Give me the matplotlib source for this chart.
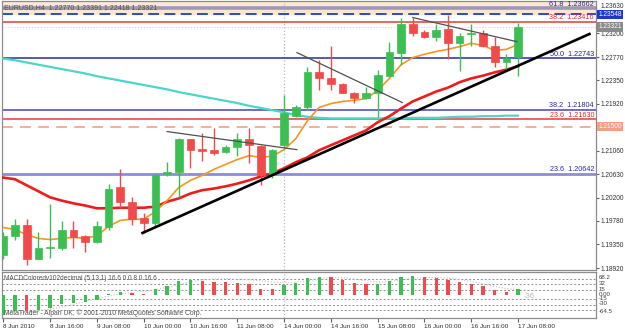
import matplotlib
matplotlib.use('Agg')
import matplotlib.pyplot as plt
import matplotlib.transforms as mtransforms

FONT = ['Liberation Sans', 'DejaVu Sans']
plt.rcParams['font.family'] = FONT

# ---------------- data ----------------
title = "EURUSD,H4  1.22770 1.23391 1.22418 1.23321"
opens = [1.1915, 1.1950, 1.1971, 1.1909, 1.1929, 1.1929, 1.1962, 1.1950, 1.1940, 1.1966,
         1.2039, 1.2012, 1.1984, 1.1975, 1.2063, 1.2068, 1.2127, 1.2110, 1.2107, 1.2103,
         1.2112, 1.2127, 1.2114, 1.2061, 1.2116, 1.2170, 1.2185, 1.2249, 1.2238, 1.2227,
         1.2212, 1.2203, 1.2212, 1.2243, 1.2285, 1.2338, 1.2322, 1.2313, 1.2329, 1.2302,
         1.2319, 1.2320, 1.2298, 1.2267, 1.22770]
highs = [1.1957, 1.1981, 1.1981, 1.1957, 1.2008, 1.1977, 1.1977, 1.1953, 1.1977, 1.2046,
         1.2072, 1.2021, 1.1992, 1.2065, 1.2086, 1.2130, 1.2128, 1.2139, 1.2147, 1.2117,
         1.2139, 1.2148, 1.2116, 1.2110, 1.2207, 1.2189, 1.2258, 1.2271, 1.2298, 1.2229,
         1.2214, 1.2223, 1.2253, 1.2304, 1.2349, 1.2349, 1.2327, 1.2338, 1.2353, 1.2320,
         1.2338, 1.2327, 1.2313, 1.2282, 1.23391]
lows = [1.1909, 1.1944, 1.1898, 1.1908, 1.1911, 1.1924, 1.1929, 1.1922, 1.1937, 1.1961,
        1.2002, 1.1970, 1.1955, 1.1968, 1.2059, 1.2021, 1.2074, 1.2088, 1.2099, 1.2101,
        1.2097, 1.2083, 1.2043, 1.2057, 1.2112, 1.2167, 1.2181, 1.2216, 1.2216, 1.2211,
        1.2194, 1.2201, 1.2167, 1.2241, 1.2262, 1.2316, 1.2311, 1.2307, 1.2273, 1.2252,
        1.2298, 1.2296, 1.2258, 1.2252, 1.22418]
closes = [1.1951, 1.1970, 1.1908, 1.1929, 1.1931, 1.1962, 1.1948, 1.1940, 1.1968, 1.2037,
          1.2012, 1.1982, 1.1975, 1.2061, 1.2068, 1.2127, 1.2108, 1.2105, 1.2101, 1.2112,
          1.2128, 1.2116, 1.2061, 1.2108, 1.2174, 1.2185, 1.2249, 1.2238, 1.2227, 1.2212,
          1.2203, 1.2212, 1.2245, 1.2287, 1.2338, 1.2320, 1.2313, 1.2327, 1.2302, 1.2316,
          1.2320, 1.2298, 1.2267, 1.2276, 1.23321]

ma_fast = [1.1966, 1.1962, 1.1953, 1.1946, 1.1944, 1.1946, 1.1948, 1.1946, 1.1951, 1.1968,
           1.1979, 1.1981, 1.1981, 1.1995, 1.2015, 1.2039, 1.2052, 1.2061, 1.2072, 1.2081,
           1.2090, 1.2097, 1.2094, 1.2096, 1.2108, 1.2128, 1.2161, 1.2185, 1.2192, 1.2196,
           1.2198, 1.2201, 1.2216, 1.2238, 1.2263, 1.2276, 1.2282, 1.2287, 1.2291, 1.2296,
           1.2302, 1.2298, 1.2289, 1.2291, 1.2300]
ma_slow = [1.2057, 1.2054, 1.2043, 1.2032, 1.2021, 1.2015, 1.2010, 1.2006, 1.2001, 1.2001,
           1.2002, 1.2002, 1.2002, 1.2004, 1.2013, 1.2019, 1.2028, 1.2034, 1.2037, 1.2041,
           1.2046, 1.2052, 1.2059, 1.2065, 1.2074, 1.2085, 1.2094, 1.2107, 1.2116, 1.2125,
           1.2134, 1.2143, 1.2158, 1.2169, 1.2183, 1.2196, 1.2205, 1.2214, 1.2221, 1.2231,
           1.2238, 1.2243, 1.2249, 1.2254, 1.2260]
ma_long = [1.2274, 1.2271, 1.2267, 1.2263, 1.2259, 1.2255, 1.2251, 1.2247, 1.2242, 1.2238,
           1.2234, 1.2230, 1.2226, 1.2222, 1.2218, 1.2213, 1.2209, 1.2205, 1.2201, 1.2197,
           1.2193, 1.2188, 1.2184, 1.2180, 1.2176, 1.2171, 1.2168, 1.2166, 1.2165, 1.2165,
           1.2165, 1.2165, 1.2165, 1.2165, 1.2165, 1.2166, 1.2166, 1.2166, 1.2167, 1.2168,
           1.2168, 1.2169, 1.2169, 1.2170, 1.2170]

macd_hist = [-62, -50, -52, -48, -40, -30, -25, -24, -18, 3, 8, 5, 3, 18, 25, 40, 43, 42, 38, 37,
             35, 32, 18, 17, 28, 35, 52, 55, 54, 45, 35, 32, 33, 42, 55, 57, 54, 50, 43, 37,
             33, 25, 14, 9, 17]
macd_up = "ggrggggggggrrggggrrrrrrrggggrrrrggggrrrrrrrrg"
macd_signal = [-60, -58, -55, -50, -45, -38, -30, -22, -12, -5, 2, 6, 10, 15, 22, 30, 38, 45, 48, 48,
               47, 45, 42, 38, 36, 38, 42, 48, 52, 52, 48, 42, 38, 40, 45, 50, 52, 52, 50, 46,
               40, 33, 25, 18, 15]
macd_levels = [48, 32, 15, -15, -32, -48]
macd_tick_text = ["68.2", "32", "15", "0.00", "-15", "-30", "-64.5"]
macd_tick_pos = [52, 34, 16, 0, -13, -29, -52]

fib_prices = [1.23662, 1.23416, 1.22743, 1.21804, 1.21630, 1.20642]
fib_pcts = ["61.8", "38.2", "50.0", "38.2", "23.6", "23.6"]
fib_text_colors = ['#2828b8', '#e02828', '#2020a0', '#2828b8', '#e02828', '#2828b8']
fib_line_colors = ['#9c98b8', '#e83838', '#2a2aa8', '#4444b8', '#e83838', '#8c8cd8']
fib_line_widths = [2.6, 1.1, 1.1, 1.1, 1.1, 2.0]

price_ticks = [1.23630, 1.23200, 1.22770, 1.22350, 1.21920, 1.21500, 1.21060, 1.20630,
               1.20200, 1.19780, 1.19350, 1.18920]
date_pos = [0, 4, 8, 12, 16, 20, 24, 28, 32, 36, 40, 44]
date_labels = ["8 Jun 2010", "8 Jun 16:00", "9 Jun 08:00", "10 Jun 00:00", "10 Jun 16:00",
               "11 Jun 08:00", "14 Jun 00:00", "14 Jun 16:00", "15 Jun 08:00", "16 Jun 00:00",
               "16 Jun 16:00", "17 Jun 08:00"]

trend_main = ([11.9, 50.1], [1.1956, 1.2319])
trend_thin = [([14.0, 25.1], [1.2141, 1.2108]),
              ([25.1, 34.1], [1.2285, 1.2194]),
              ([35.0, 43.9], [1.2349, 1.2305])]
level_blue_dash = 1.23548
level_salmon_dash = 1.21500
bid_price = 1.23321
week_sep = 24

# ---------------- layout ----------------
W, H = 625, 331
fig = plt.figure(figsize=(6.25, 3.31), dpi=100)
fig.patch.set_facecolor('white')


def fy(px):
    return 1 - px / H


ax = fig.add_axes([2 / W, fy(270), 594 / W, 269 / H])
axm = fig.add_axes([2 / W, fy(318), 594 / W, 46 / H], sharex=ax)

XL = (-0.11, 50.66)
ax.set_xlim(*XL)
ax.set_ylim(1.18884, 1.23792)
axm.set_ylim(-72, 69)

for a in (ax, axm):
    for s in a.spines.values():
        s.set_color('#8c8c8c')
        s.set_linewidth(0.9)

GREEN = '#3cbf52'
RED = '#f24a4a'

# top shaded band and horizontal objects
ax.axhspan(level_blue_dash, 1.24, color='#fde7d2', zorder=0)
ax.axhline(level_blue_dash, color='#1e3ccc', lw=1.3, dashes=(6, 3), zorder=2)
ax.axhline(level_salmon_dash, color='#f6a890', lw=1.3, dashes=(6, 4), zorder=2)
ax.axhline(bid_price, color='#f2c4c4', lw=0.8, ls=':', zorder=1)
ax.axvline(week_sep, color='#b8b8b8', lw=0.9, ls=':', zorder=1)
axm.axvline(week_sep, color='#b8b8b8', lw=0.9, ls=':', zorder=1)

off = mtransforms.offset_copy(ax.get_yaxis_transform(), fig=fig, x=-2, y=0.6, units='dots')
for p, pc, tc, lc, lw in zip(fib_prices, fib_pcts, fib_text_colors, fib_line_colors, fib_line_widths):
    ax.axhline(p, color=lc, lw=lw, zorder=2)
    ax.text(1.0, p, f"{pc}  {p:.5f}", transform=off, ha='right', va='bottom',
            fontsize=5.2, color=tc, zorder=6)

# moving averages
x = list(range(len(opens)))
ax.plot(x, ma_long, color='#4cd6c6', lw=1.6, zorder=3)
ax.plot(x, ma_slow, color='#ee1c1c', lw=1.9, zorder=4)
ax.plot(x, ma_fast, color='#f5961e', lw=1.2, zorder=4)

# candles
for i, (o, h, l, c) in enumerate(zip(opens, highs, lows, closes)):
    col = GREEN if c >= o else RED
    ax.vlines(i, l, h, color=col, lw=1.0, zorder=5)
    lo, hi = min(o, c), max(o, c)
    ax.bar(i, max(hi - lo, 0.00004), bottom=lo, width=0.66, color=col,
           edgecolor=col, lw=0.5, zorder=5)

# trend lines
ax.plot(trend_main[0], trend_main[1], color='black', lw=1.9, zorder=6, clip_on=False)
for tx, ty in trend_thin:
    ax.plot(tx, ty, color='#505050', lw=0.9, zorder=6)

# price axis
boxes = [(level_blue_dash, '#1a3ac8'), (bid_price, '#8a8a8a'), (level_salmon_dash, '#f4a080')]
box_values = [b[0] for b in boxes]
ax.yaxis.tick_right()
ax.set_yticks(price_ticks)
ax.set_yticklabels(["" if any(abs(v - b) < 1e-7 for b in box_values) else f"{v:.5f}"
                    for v in price_ticks])
ax.tick_params(axis='y', length=2, width=0.8, color='#606060', labelsize=4.7,
               labelcolor='#303030', pad=1.0)
ax.tick_params(axis='x', bottom=False, labelbottom=False)
ax.get_yticklabels()[0].set_verticalalignment('bottom')

ytr = mtransforms.blended_transform_factory(ax.transAxes, ax.transData)
for v, fc in boxes:
    ax.text(1.004, v, f"{v:.5f}", transform=ytr, ha='left', va='center', fontsize=4.7,
            color='white', zorder=10, clip_on=False,
            bbox=dict(boxstyle='square,pad=0.2', fc=fc, ec='none'))

ax.text(0.003, 0.988, title, transform=ax.transAxes, ha='left', va='top', fontsize=5.0,
        color='#505050', zorder=10)

# MACD panel
for lv in macd_levels:
    axm.axhline(lv, color='#909090', lw=0.7, dashes=(2, 2), zorder=1)
mcols = [GREEN if ch == 'g' else RED for ch in macd_up]
axm.bar(x, macd_hist, width=0.28, color=mcols, zorder=3)
axm.plot(x, macd_signal, color='#c0c0c0', lw=0.8, ls=':', zorder=2)
axm.text(0.004, 0.93, "MACDColoredv102decimal (5,13,1) 16.6 0.0 8.0 16.6", transform=axm.transAxes,
         ha='left', va='top', fontsize=4.7, color='#505050', zorder=5)
axm.text(0.004, 0.03, "MetaTrader - Alpari UK, \u00a9 2001-2010 MetaQuotes Software Corp.",
         transform=axm.transAxes, ha='left', va='bottom', fontsize=4.9, color='#505050', zorder=5)
axm.text(44.5, -6, "-36", ha='left', va='center', fontsize=5.5, color='#b8b8b8', zorder=5)

axm.yaxis.tick_right()
axm.set_yticks([])
mtr = mtransforms.blended_transform_factory(axm.transAxes, axm.transData)
for t, p in zip(macd_tick_text, macd_tick_pos):
    axm.text(1.004, p, t, transform=mtr, ha='left', va='center', fontsize=4.4,
             color='#404040', clip_on=False)

axm.set_xticks(date_pos)
axm.set_xticklabels(date_labels)
axm.tick_params(axis='x', length=3, width=0.8, color='#606060', labelsize=4.6,
                labelcolor='#303030', pad=1.5)
for lab in axm.get_xticklabels():
    lab.set_horizontalalignment('left')
axm.set_xlim(*XL)

fig.savefig('out.png', dpi=100, facecolor='white')
